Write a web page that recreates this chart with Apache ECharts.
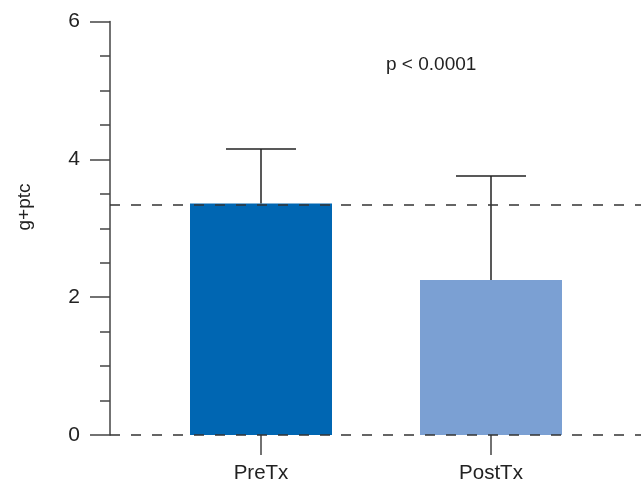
<!DOCTYPE html>
<html>
<head>
<meta charset="utf-8">
<script src="https://cdn.jsdelivr.net/npm/echarts@6/dist/echarts.min.js"></script>
<style>html,body{margin:0;padding:0;background:#fff}#c{width:641px;height:481px}</style>
</head>
<body>
<div id="c"></div>
<script>
const categories = ['PreTx', 'PostTx'];
const means = [3.36, 2.25];
const errUpper = [4.15, 3.76];
const barColors = ['#0066b2', '#7ba0d3'];
const refLines = [3.34, 0];
const yTicks = [0, 2, 4, 6];
const yTitle = 'g+ptc';
const pText = 'p < 0.0001';

const FONT = "'Liberation Sans', Arial, sans-serif";
const AX = '#444';
const chart = echarts.init(document.getElementById('c'), null, {renderer: 'canvas'});
const gridTop = 21.6, gridBottom = 46;
chart.setOption({
  animation: false,
  grid: [
    {left: 110, right: 0, top: gridTop, bottom: gridBottom, containLabel: false, outerBoundsMode: 'none'},
    {left: 146, right: 35, top: gridTop, bottom: gridBottom, containLabel: false, outerBoundsMode: 'none'}
  ],
  xAxis: [
    {gridIndex: 0, type: 'value', min: 0, max: 1, show: false},
    {gridIndex: 1, type: 'category', data: categories,
     axisLine: {show: false},
     axisTick: {show: true, alignWithLabel: true, length: 20, lineStyle: {color: AX, width: 1.5}},
     axisLabel: {margin: 28, fontSize: 20.5, color: '#222', fontFamily: FONT}}
  ],
  yAxis: [
    {gridIndex: 0, type: 'value', min: yTicks[0], max: yTicks[yTicks.length-1], interval: 2,
     axisLine: {show: true, lineStyle: {color: AX, width: 1.5}},
     axisTick: {show: true, length: 20, lineStyle: {color: AX, width: 1.5}},
     minorTick: {show: true, splitNumber: 4, length: 10, lineStyle: {color: AX, width: 1.5}},
     splitLine: {show: false},
     axisLabel: {margin: 30, fontSize: 21, color: '#222', fontFamily: FONT}},
    {gridIndex: 1, type: 'value', min: yTicks[0], max: yTicks[yTicks.length-1], show: false}
  ],
  series: [
    {type: 'bar', xAxisIndex: 1, yAxisIndex: 1, barWidth: 142, z: 2,
     data: means.map((v, i) => ({value: v, itemStyle: {color: barColors[i]}}))},
    {type: 'custom', xAxisIndex: 1, yAxisIndex: 1, z: 3,
     data: means.map((v, i) => [i, v, errUpper[i]]),
     renderItem: function (params, api) {
       const p0 = api.coord([api.value(0), api.value(1)]);
       const p1 = api.coord([api.value(0), api.value(2)]);
       const hw = 35;
       const st = {stroke: '#222', lineWidth: 1.5};
       return {type: 'group', children: [
         {type: 'line', shape: {x1: p0[0], y1: p0[1], x2: p1[0], y2: p1[1]}, style: st},
         {type: 'line', shape: {x1: p1[0]-hw, y1: p1[1], x2: p1[0]+hw, y2: p1[1]}, style: st}
       ]};
     }},
    {type: 'line', xAxisIndex: 0, yAxisIndex: 0, data: [], z: 5,
     markLine: {silent: true, symbol: 'none', label: {show: false},
       lineStyle: {color: '#333', width: 1.5, type: [10, 11]},
       data: refLines.map(v => ({yAxis: v}))}}
  ],
  graphic: [
    {type: 'text', left: 386, top: 55, style: {text: pText, fontSize: 19, fill: '#222', fontFamily: FONT}},
    {type: 'text', x: 25, y: 207, rotation: Math.PI / 2,
     style: {text: yTitle, fontSize: 19, fill: '#222', fontFamily: FONT, align: 'center', verticalAlign: 'middle'}}
  ]
});
</script>
</body>
</html>
